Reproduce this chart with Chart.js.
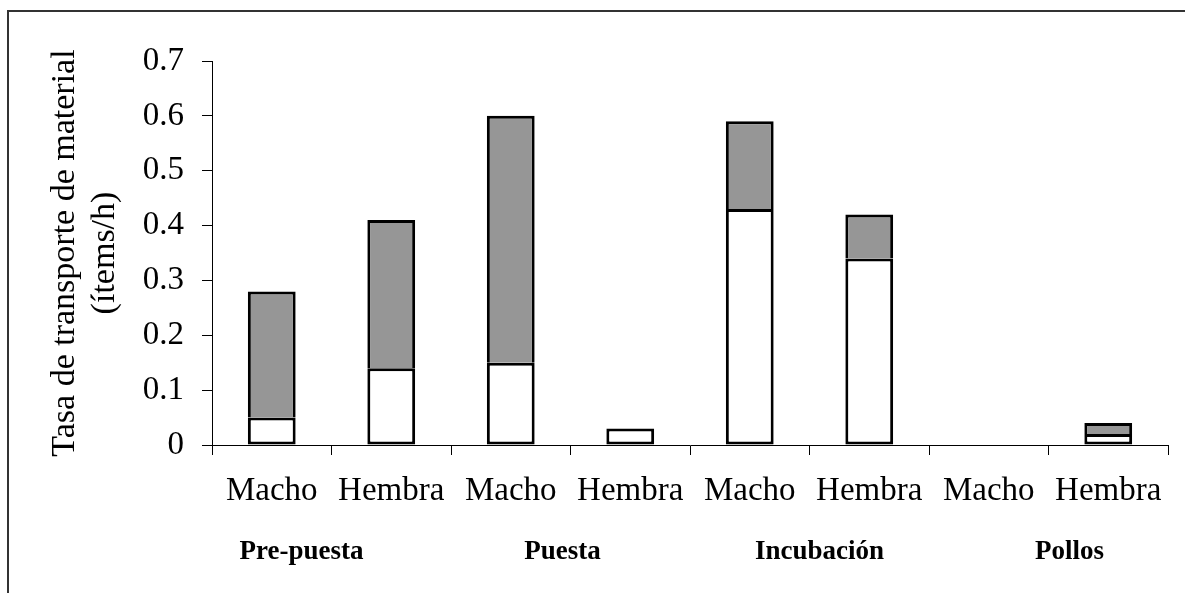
<!DOCTYPE html>
<html>
<head>
<meta charset="utf-8">
<script src="https://cdn.jsdelivr.net/npm/chart.js@4/dist/chart.umd.min.js"></script>
<style>
    body { margin: 0; background: #fff; }
</style>
</head>
<body>
<canvas id="transport-chart" width="1185" height="593"></canvas>
<script>
var categories = ['Macho', 'Hembra', 'Macho', 'Hembra', 'Macho', 'Hembra', 'Macho', 'Hembra'];
var stages = ['Pre-puesta', 'Puesta', 'Incubación', 'Pollos'];
var white_values = [0.05, 0.14, 0.15, 0.03, 0.43, 0.34, null, 0.02];
var gray_values = [0.23, 0.27, 0.45, null, 0.16, 0.08, null, 0.02];
var y_tick_labels = ['0', '0.1', '0.2', '0.3', '0.4', '0.5', '0.6', '0.7'];
var y_title = ['Tasa de transporte de material', '(ítems/h)'];

var TransportChart;

// outer frame (top and left only, like the original picture)
var framePlugin = {
    id: 'frame',
    beforeDraw: function (chart) {
        var ctx = chart.ctx;
        ctx.save();
        ctx.strokeStyle = '#333';
        ctx.lineWidth = 2;
        ctx.beginPath();
        ctx.moveTo(8, 593);
        ctx.lineTo(8, 11);
        ctx.lineTo(1185, 11);
        ctx.stroke();
        ctx.restore();
    }
};

// stage names under each pair of bars
var stagePlugin = {
    id: 'stages',
    afterDraw: function (chart, args, opts) {
        var ctx = chart.ctx;
        var x = chart.scales.x;
        ctx.save();
        ctx.fillStyle = '#000';
        ctx.font = 'bold 27px "Liberation Serif"';
        ctx.textAlign = 'center';
        ctx.textBaseline = 'alphabetic';
        for (var i = 0; i < stages.length; i++) {
            var cx = (x.getPixelForValue(i * 2) + x.getPixelForValue(i * 2 + 1)) / 2 + opts.shift[i];
            ctx.fillText(stages[i], cx, opts.baseline);
        }
        ctx.restore();
    }
};

function LoadTransportChart() {
    var ctx = document.getElementById('transport-chart');
    if (TransportChart) {
        TransportChart.destroy();
    }
    TransportChart = new Chart(ctx, {
        type: 'bar',
        data: {
            labels: categories,
            datasets: [{
                label: 'blanco',
                data: white_values,
                backgroundColor: '#ffffff',
                borderColor: '#000000',
                borderWidth: 3,
                borderSkipped: false
            }, {
                label: 'gris',
                data: gray_values,
                backgroundColor: '#969696',
                borderColor: '#000000',
                borderWidth: 3,
                borderSkipped: 'start'
            }]
        },
        plugins: [framePlugin, stagePlugin],
        options: {
            responsive: false,
            animation: false,
            layout: {
                padding: { top: 61, right: 17, left: 0, bottom: 0 }
            },
            datasets: {
                bar: {
                    barPercentage: 0.4,
                    categoryPercentage: 1
                }
            },
            plugins: {
                legend: false,
                tooltip: { enabled: false },
                stages: {
                    baseline: 559,
                    shift: [-30, -8, 10, 21]
                }
            },
            scales: {
                x: {
                    stacked: true,
                    afterFit: function (scale) { scale.height = 148; },
                    border: { display: true, color: '#000', width: 1 },
                    grid: {
                        offset: true,
                        drawOnChartArea: false,
                        drawTicks: true,
                        tickLength: 10,
                        color: '#000'
                    },
                    ticks: {
                        color: '#000',
                        padding: 17,
                        maxRotation: 0,
                        autoSkip: false,
                        font: { family: 'Liberation Serif', size: 33 }
                    }
                },
                y: {
                    stacked: true,
                    min: 0,
                    max: 0.7,
                    afterFit: function (scale) { scale.width = 212; },
                    border: { display: true, color: '#000', width: 1 },
                    grid: {
                        drawOnChartArea: false,
                        drawTicks: true,
                        tickLength: 10,
                        color: '#000'
                    },
                    ticks: {
                        stepSize: 0.1,
                        color: '#000',
                        padding: 18,
                        font: { family: 'Liberation Serif', size: 33 },
                        callback: function (value, index) {
                            return y_tick_labels[index];
                        }
                    },
                    title: {
                        display: true,
                        text: y_title,
                        color: '#000',
                        padding: { top: 46, bottom: 0 },
                        font: { family: 'Liberation Serif', size: 34, lineHeight: 1.15 }
                    }
                }
            }
        }
    });
}

LoadTransportChart();
</script>
</body>
</html>
